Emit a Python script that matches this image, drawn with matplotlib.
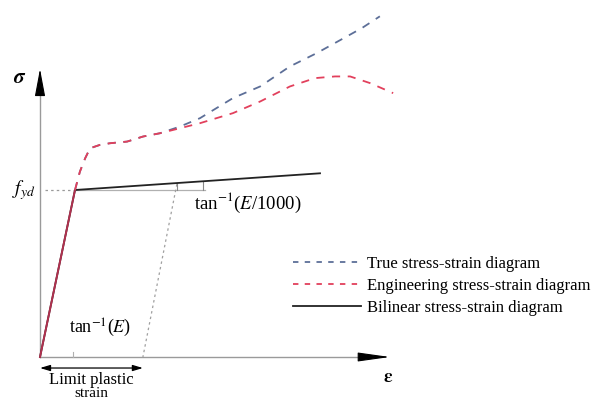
import matplotlib
matplotlib.use("Agg")
import matplotlib.pyplot as plt
from matplotlib.lines import Line2D

plt.rcParams['font.family'] = ['Liberation Serif', 'DejaVu Serif']
plt.rcParams['mathtext.fontset'] = 'stix'

# Schematic data: strain normalised by yield strain, stress normalised by f_yd
eng_strain = [0, 1.00, 1.14, 1.29, 1.43, 1.71, 2.00, 2.49, 2.94, 3.43, 4.00, 4.57,
              5.51, 6.29, 7.14, 7.86, 8.43, 8.86, 9.43, 10.09]
eng_stress = [0, 1.00, 1.11, 1.19, 1.25, 1.27, 1.28, 1.29, 1.32, 1.34, 1.37, 1.40,
              1.46, 1.53, 1.62, 1.67, 1.68, 1.68, 1.64, 1.58]

true_strain = [1.00, 1.14, 1.29, 1.43, 1.71, 2.00, 2.49, 2.94, 3.43, 4.00, 4.57,
               5.51, 6.29, 7.14, 7.43, 7.91, 8.34, 8.77, 9.20, 9.71]
true_stress = [1.00, 1.11, 1.19, 1.25, 1.27, 1.28, 1.29, 1.32, 1.34, 1.38, 1.43,
               1.55, 1.62, 1.74, 1.77, 1.82, 1.87, 1.92, 1.97, 2.04]

bil_strain = [0, 1.00, 8.00]
bil_stress = [0, 1.00, 1.10]

unload_strain = [3.91, 2.94]
unload_stress = [1.035, 0.0]

limit_plastic = 2.94
legend_labels = ['True stress-strain diagram',
                 'Engineering stress-strain diagram',
                 'Bilinear stress-strain diagram']

fig = plt.figure(figsize=(5.97, 3.99), dpi=100)
ax = fig.add_axes([0, 0, 1, 1])
ax.set_xlim(-1.143, 15.914)
ax.set_ylim(-0.2515, 2.1377)
ax.axis('off')

col_true = '#5d6f98'
col_eng = '#e2405c'
col_axis = '#9a9a9a'

# axes
ax.plot([0, 0], [0, 1.60], color=col_axis, lw=1.0, zorder=1)
ax.plot([0, 9.3], [0, 0], color=col_axis, lw=1.0, zorder=1)
ax.annotate('', xy=(0, 1.725), xytext=(0, 1.57),
            arrowprops=dict(arrowstyle='-|>,head_length=1.7,head_width=0.32',
                            color='black', lw=0.8, shrinkA=0, shrinkB=0))
ax.annotate('', xy=(10.0, 0), xytext=(9.15, 0),
            arrowprops=dict(arrowstyle='-|>,head_length=2.0,head_width=0.28',
                            color='black', lw=0.8, shrinkA=0, shrinkB=0))
ax.text(-0.57, 1.665, r'$\boldsymbol{\sigma}$', fontsize=15, ha='center', va='center')
ax.text(9.95, -0.125, r'$\boldsymbol{\varepsilon}$', fontsize=14, ha='center', va='center')

# f_yd reference lines
ax.plot([0.14, 1.0], [1.0, 1.0], color=col_axis, lw=0.9, ls=(0, (2, 2.5)), zorder=1)
ax.plot([1.0, 4.71], [1.0, 1.0], color='#b0b0b0', lw=0.9, zorder=1)
ax.text(-0.45, 1.0, r'$f_{yd}$', fontsize=14, ha='center', va='center')

# bilinear
ax.plot(bil_strain, bil_stress, color='#222222', lw=1.3, zorder=3)
# elastic part (overlaid red)
ax.plot(eng_strain[:2], eng_stress[:2], color='#b0304e', lw=1.4, zorder=4)

# curves
ax.plot(true_strain, true_stress, color=col_true, lw=1.3, dashes=(4.5, 4.2), zorder=5)
ax.plot(eng_strain[1:], eng_stress[1:], color=col_eng, lw=1.3, dashes=(4.5, 4.2), zorder=6)

# unloading dotted line and slope markers
ax.plot(unload_strain, unload_stress, color='#a0a0a0', lw=0.9, ls=(0, (2, 2.5)), zorder=2)
ax.plot([3.91, 3.91], [1.0, 1.04], color='#888888', lw=0.8)
ax.plot([4.66, 4.66], [1.0, 1.045], color='#888888', lw=0.8)
ax.plot([0.95, 0.95], [0.0, 0.03], color='#b0b0b0', lw=0.8)
ax.text(4.4, 0.925, r'tan$^{-1}$($E$/1000)', fontsize=13.5, ha='left', va='center')
ax.text(0.82, 0.175, r'tan$^{-1}$($E$)', fontsize=13, ha='left', va='center')

# limit plastic strain
ax.annotate('', xy=(0, -0.066), xytext=(limit_plastic, -0.066),
            arrowprops=dict(arrowstyle='<|-|>,head_length=0.6,head_width=0.18',
                            color='black', lw=0.9, shrinkA=0, shrinkB=0))
ax.text(limit_plastic / 2, -0.135, 'Limit plastic', fontsize=12, ha='center', va='center')
ax.text(limit_plastic / 2, -0.239, 'strain', fontsize=11, ha='center', va='baseline')

handles = [Line2D([], [], color=col_true, lw=1.3, dashes=(3, 3.5)),
           Line2D([], [], color=col_eng, lw=1.3, dashes=(3, 3.5)),
           Line2D([], [], color='#222222', lw=1.3)]
ax.legend(handles, legend_labels, loc='upper left', bbox_to_anchor=(0.491, 0.358),
          frameon=False, fontsize=12, handlelength=4.1, handletextpad=0.36,
          labelspacing=0.35, borderaxespad=0, borderpad=0)

fig.savefig('out.png', dpi=100)
